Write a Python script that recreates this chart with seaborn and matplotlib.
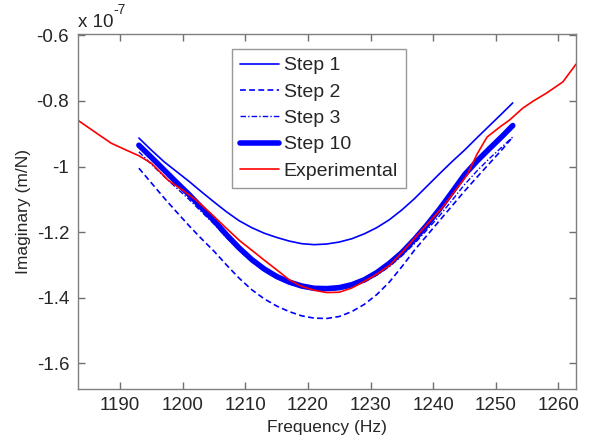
import matplotlib
matplotlib.use("Agg")
import matplotlib.pyplot as plt
import matplotlib.ticker as mticker
import seaborn as sns
import pandas as pd

# ---- data (imaginary part in units of 1e-7 m/N) ----
freq_model = [1193, 1195, 1197, 1199, 1201, 1203, 1205, 1207, 1209, 1211, 1213, 1215,
              1217, 1219, 1221, 1223, 1225, 1227, 1229, 1231, 1233, 1235, 1237, 1239,
              1241, 1243, 1245, 1247, 1249, 1251, 1252.7]
step1 = [-0.913, -0.950, -0.985, -1.015, -1.045, -1.077, -1.108, -1.138, -1.165, -1.186,
         -1.203, -1.216, -1.227, -1.235, -1.238, -1.236, -1.230, -1.220, -1.205, -1.186,
         -1.162, -1.132, -1.098, -1.060, -1.022, -0.985, -0.950, -0.912, -0.875, -0.838, -0.806]
step2 = [-1.005, -1.050, -1.095, -1.138, -1.180, -1.220, -1.258, -1.300, -1.340, -1.375,
         -1.403, -1.425, -1.442, -1.455, -1.462, -1.463, -1.457, -1.442, -1.420, -1.390,
         -1.352, -1.305, -1.255, -1.210, -1.165, -1.120, -1.075, -1.032, -0.990, -0.948, -0.910]
step3 = [-0.955, -0.993, -1.030, -1.065, -1.100, -1.138, -1.175, -1.217, -1.255, -1.290,
         -1.318, -1.340, -1.357, -1.369, -1.376, -1.378, -1.375, -1.366, -1.352, -1.331,
         -1.305, -1.272, -1.235, -1.193, -1.150, -1.103, -1.055, -1.013, -0.975, -0.940, -0.910]
step10 = [-0.935, -0.972, -1.010, -1.048, -1.085, -1.125, -1.165, -1.208, -1.248, -1.283,
          -1.312, -1.335, -1.352, -1.364, -1.371, -1.372, -1.369, -1.360, -1.345, -1.323,
          -1.295, -1.262, -1.222, -1.178, -1.130, -1.078, -1.025, -0.983, -0.945, -0.908, -0.875]
freq_exp = [1183.2, 1186, 1188.6, 1191, 1193, 1195, 1197.7, 1200, 1202, 1204.5, 1206.8,
            1209.1, 1211.5, 1213, 1215.5, 1217, 1219, 1221, 1223, 1225, 1227, 1229, 1231,
            1233.1, 1235, 1237.9, 1241.5, 1245.4, 1247, 1248.6, 1250.6, 1252.2, 1254.3,
            1256, 1258.1, 1260.7, 1262.8]
experimental = [-0.858, -0.895, -0.929, -0.950, -0.967, -0.990, -1.042, -1.072, -1.100, -1.143,
                -1.185, -1.226, -1.262, -1.285, -1.322, -1.345, -1.365, -1.377, -1.384, -1.383,
                -1.370, -1.350, -1.328, -1.300, -1.262, -1.200, -1.124, -1.026, -0.962, -0.910,
                -0.880, -0.858, -0.822, -0.800, -0.776, -0.742, -0.688]
scale = 1e-7

x_ticks = [1190, 1200, 1210, 1220, 1230, 1240, 1250, 1260]
y_ticks = [-1.6, -1.4, -1.2, -1.0, -0.8, -0.6]

sns.set_style("white", {"xtick.bottom": True, "xtick.top": True,
                        "ytick.left": True, "ytick.right": True,
                        "xtick.direction": "in", "ytick.direction": "in"})
plt.rcParams['font.family'] = ['Liberation Sans', 'DejaVu Sans']

fig = plt.figure(figsize=(5.9, 4.41), dpi=100)
ax = fig.add_axes([77.5/590, 1-388.7/441, (576-77.5)/590, (388.7-34)/441])

series = [
    ("Step 1", freq_model, step1, dict(color="#0000ff", linestyle="-", linewidth=1.2)),
    ("Step 2", freq_model, step2, dict(color="#0000ff", linestyle=(0, (3.5, 2)), linewidth=1.2)),
    ("Step 3", freq_model, step3, dict(color="#0000ff", linestyle=(0, (4, 1.5, 1, 1.5)), linewidth=1.0)),
    ("Step 10", freq_model, step10, dict(color="#0000ff", linestyle="-", linewidth=4.0)),
    ("Experimental", freq_exp, experimental, dict(color="#ff0000", linestyle="-", linewidth=1.2)),
]
for name, fx, fy, kw in series:
    df = pd.DataFrame({"Frequency": fx, "Imag": [v * scale for v in fy]})
    sns.lineplot(data=df, x="Frequency", y="Imag", ax=ax, label=name, **kw)

ax.set_xlim(1183.2, 1262.8)
ax.set_ylim(-1.677e-7, -0.596e-7)
ax.set_xticks(x_ticks)
ax.set_yticks([v * scale for v in y_ticks])
ax.yaxis.set_major_formatter(mticker.FuncFormatter(lambda v, p: f"{v/scale:g}"))

for s in ax.spines.values():
    s.set_color("#7f7f7f")
    s.set_linewidth(1.0)
ax.tick_params(direction="in", length=5, width=1.0, color="#6f6f6f",
               bottom=True, left=True, top=True, right=True,
               labelsize=13.5, labelcolor="#262626", pad=6)

ax.set_xlabel("Frequency (Hz)", fontsize=12.5, color="#262626", labelpad=4)
ax.set_ylabel("Imaginary (m/N)", fontsize=12.5, color="#262626", labelpad=4)

fig.text(78/590, 1-27/441, "x 10", fontsize=13.5, color="#262626", va="baseline", ha="left")
fig.text(113/590, 1-14/441, "-7", fontsize=10, color="#262626", va="baseline", ha="left")

leg = ax.legend(loc="upper left", bbox_to_anchor=(232/590, 1-49/441), bbox_transform=fig.transFigure,
                frameon=True, fancybox=False, fontsize=14, handlelength=2.0, handletextpad=0.25,
                labelspacing=0.45, borderpad=0.4, borderaxespad=0)
leg.get_frame().set_edgecolor("#7f7f7f")
leg.get_frame().set_linewidth(1.0)
for t in leg.get_texts():
    t.set_color("#262626")

fig.savefig("out.png", dpi=100)
